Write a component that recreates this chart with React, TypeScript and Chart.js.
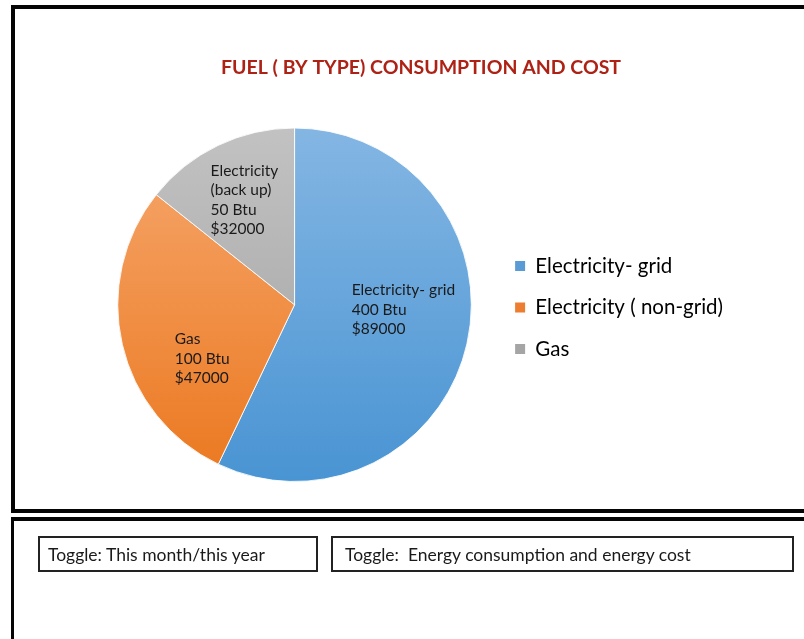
import React, { useEffect, useRef } from "react";
import { Chart, registerables } from "chart.js";

Chart.register(...registerables);

// Fuel types shown in the legend, in slice order (clockwise from 12 o'clock)
const fuelTypes = ["Electricity- grid", "Electricity ( non-grid)", "Gas"];
// Share of each slice, in percent
const sliceShares = [57.1, 28.6, 14.3];
// Callout text placed on each slice
const calloutNames = [["Electricity- grid"], ["Gas"], ["Electricity", "(back up)"]];
const btuValues = [400, 100, 50];
const costValues = [89000, 47000, 32000];

const chartTitle = "FUEL ( BY TYPE) CONSUMPTION AND COST";
const toggleLabels = ["Toggle: This month/this year", "Toggle:\u00a0 Energy consumption and energy cost"];

// Office-style fills: solid swatch colours plus a top-to-bottom gradient for the slices
const swatchColors = ["#5B9BD5", "#ED7D31", "#A5A5A5"];
const gradientTop = ["#84B6E3", "#F6A86F", "#C2C2C2"];
const gradientBottom = ["#4994D3", "#EB781F", "#A0A0A0"];

// Where each callout starts, as a fraction of the pie radius from its centre
const calloutAnchors = [
  [0.323, -0.082],
  [-0.678, 0.196],
  [-0.475, -0.758],
];

const FONT = "Lato, Carlito, Calibri, 'Liberation Sans', sans-serif";

const sliceCallouts = {
  id: "sliceCallouts",
  afterDatasetsDraw(chart: any) {
    const meta = chart.getDatasetMeta(0);
    const ctx = chart.ctx;
    ctx.save();
    ctx.font = `15.5px ${FONT}`;
    ctx.fillStyle = "#1a1a1a";
    ctx.textAlign = "left";
    ctx.textBaseline = "middle";
    meta.data.forEach((arc: any, i: number) => {
      const { x, y, outerRadius } = arc.getProps(["x", "y", "outerRadius"], true);
      const lines = [...calloutNames[i], `${btuValues[i]} Btu`, `$${costValues[i]}`];
      const lx = x + calloutAnchors[i][0] * outerRadius;
      const ly = y + calloutAnchors[i][1] * outerRadius;
      lines.forEach((t, k) => ctx.fillText(t, lx, ly + k * 19.4));
    });
    ctx.restore();
  },
};

// Nudges the title block a little to the right of the padded canvas centre
const titleShift = {
  id: "titleShift",
  afterLayout(chart: any) {
    const t = chart.titleBlock;
    if (t) {
      t.left += 7;
      t.right += 7;
    }
  },
};

function FuelChart() {
  const ref = useRef<HTMLCanvasElement | null>(null);
  useEffect(() => {
    let chart: Chart | null = null;
    let cancelled = false;
    const build = () => {
      if (cancelled || !ref.current) return;
      const pieLabels = (Chart as any).overrides.pie.plugins.legend.labels.generateLabels;
      chart = new Chart(ref.current, {
        type: "pie",
        data: {
          labels: fuelTypes,
          datasets: [
            {
              data: sliceShares,
              backgroundColor: (c: any) => {
                const area = c.chart.chartArea;
                const i = c.dataIndex ?? 0;
                if (!area) return swatchColors[i];
                const g = c.chart.ctx.createLinearGradient(0, area.top, 0, area.bottom);
                g.addColorStop(0, gradientTop[i]);
                g.addColorStop(1, gradientBottom[i]);
                return g;
              },
              borderColor: "rgba(255,255,255,0.85)",
              borderWidth: 1,
            },
          ],
        },
        options: {
          responsive: false,
          animation: false,
          layout: { padding: { left: 95, right: 71, top: 0, bottom: 28 } },
          plugins: {
            tooltip: { enabled: false },
            title: {
              display: true,
              text: chartTitle,
              color: "#AE2216",
              font: { family: FONT, size: 19.5, weight: "bold" },
              padding: { top: 56.3, bottom: 47.8 },
            },
            legend: {
              position: "right",
              align: "center",
              // empty title only reserves space above the items
              title: { display: true, text: "", font: { size: 10 }, padding: { top: 121, bottom: 0 } },
              labels: {
                color: "#000",
                font: { family: FONT, size: 20.5 },
                boxWidth: 10,
                boxHeight: 10,
                padding: 21,
                generateLabels: (ch: any) =>
                  pieLabels(ch).map((l: any, i: number) => ({
                    ...l,
                    fillStyle: swatchColors[i],
                    strokeStyle: swatchColors[i],
                    lineWidth: 0,
                  })),
              },
            },
          },
        },
        plugins: [sliceCallouts, titleShift],
      });
    };
    const fonts = (document as any).fonts;
    if (fonts && fonts.load) {
      Promise.all([fonts.load(`15px Lato`), fonts.load(`bold 18px Lato`)])
        .catch(() => null)
        .then(build);
    } else {
      build();
    }
    return () => {
      cancelled = true;
      if (chart) chart.destroy();
    };
  }, []);
  return (
    <canvas
      ref={ref}
      width={804}
      height={510}
      style={{ position: "absolute", left: 0, top: 0, width: 804, height: 510 }}
    />
  );
}

export default function App() {
  const toggleStyle: React.CSSProperties = {
    position: "absolute",
    top: 536,
    height: 36,
    boxSizing: "border-box",
    border: "2px solid #222",
    font: `17.5px ${FONT}`,
    color: "#1a1a1a",
    display: "flex",
    alignItems: "center",
    whiteSpace: "pre",
  };
  return (
    <div
      style={{
        position: "fixed",
        left: 0,
        top: 0,
        width: 804,
        height: 639,
        overflow: "hidden",
        background: "#fff",
      }}
    >
      <FuelChart />
      <div
        style={{
          position: "absolute",
          left: 11,
          top: 5,
          width: 840,
          height: 508,
          boxSizing: "border-box",
          border: "4px solid #050505",
          pointerEvents: "none",
        }}
      />
      <div
        style={{
          position: "absolute",
          left: 11,
          top: 517,
          width: 840,
          height: 200,
          boxSizing: "border-box",
          borderTop: "4px solid #050505",
          borderLeft: "3px solid #050505",
        }}
      />
      <div style={{ ...toggleStyle, left: 38, width: 280, paddingLeft: 8 }}>{toggleLabels[0]}</div>
      <div style={{ ...toggleStyle, left: 331, width: 463, paddingLeft: 12 }}>{toggleLabels[1]}</div>
    </div>
  );
}
